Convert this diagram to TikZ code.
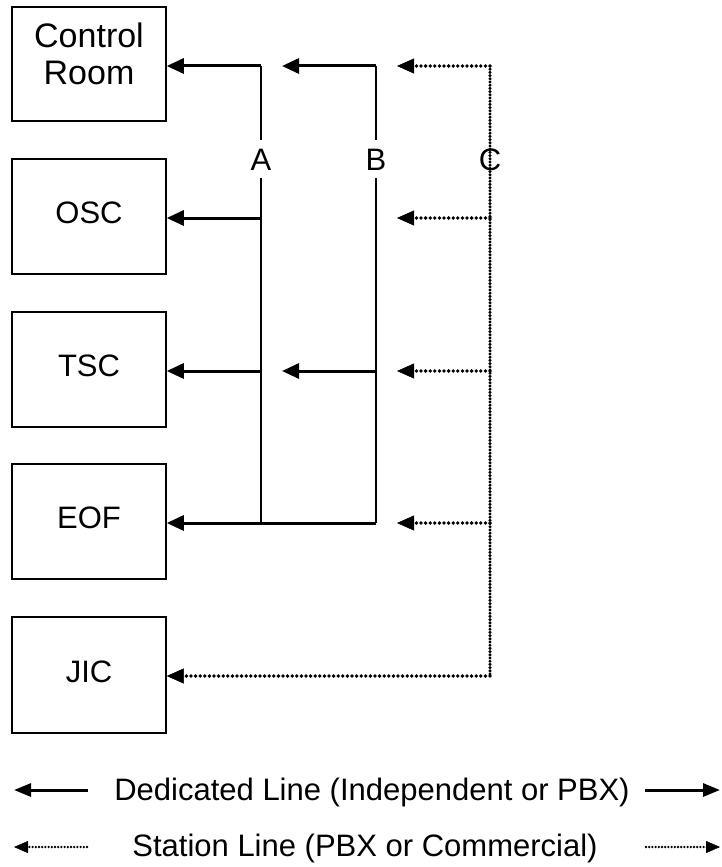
\documentclass[tikz,border=0pt]{standalone}
\usepackage{fontspec}
\setmainfont{Liberation Sans}
\usetikzlibrary{arrows.meta,decorations.markings}
\begin{document}
\begin{tikzpicture}[x=1pt,y=-1pt,
  lbl/.style={font=\fontsize{31}{37}\selectfont},
  box/.style={lbl, draw, line width=1.5pt, minimum width=154pt, inner sep=0pt, align=center, text depth=7pt},
  bus/.style={line width=1.5pt},
  ded/.style={line width=3pt, -{Triangle[length=17pt,width=15pt]}},
  sta/.style={postaction={decorate}, decoration={markings,
      mark=between positions 0 and -16pt step 4.6pt with {\fill (0,0) circle (1.9pt);},
      mark=at position 1 with {\arrow{Triangle[length=17pt,width=15pt]}}}},
  stav/.style={postaction={decorate}, decoration={markings,
      mark=between positions 0 and 1 step 3.2pt with {\fill (0,0) circle (1.7pt);}}},
  colname/.style={lbl, inner sep=8pt, anchor=base},
  dedleg/.style={line width=3pt, -{Triangle[length=17pt,width=13pt]}},
  staleg/.style={postaction={decorate}, decoration={markings,
      mark=between positions 0 and -12pt step 3.2pt with {\fill (0,0) circle (1.3pt);},
      mark=at position 1 with {\arrow{Triangle[length=14pt,width=12pt]}}}}]
\useasboundingbox (0,0) rectangle (721,867);

% boxes
\node[box, minimum height=114pt, font=\fontsize{34}{37}\selectfont, text depth=21pt] (cr) at (89,64) {Control\\Room};
\node[box, minimum height=115pt] (osc) at (89,216.5) {OSC};
\node[box, minimum height=115pt] (tsc) at (89,369.5) {TSC};
\node[box, minimum height=115pt] (eof) at (89,521.5) {EOF};
\node[box, minimum height=116pt] (jic) at (89,675) {JIC};

% column labels
\node[colname] (labA) at (261,170) {A};
\node[colname] (labB) at (376,170) {B};

% junction coordinates
\coordinate (aT) at (261,66);
\coordinate (a2) at (261,218);
\coordinate (a3) at (261,371);
\coordinate (bT) at (376,66);
\coordinate (b3) at (376,371);
\coordinate (bB) at (376,523);
\coordinate (bTe) at (282,66);
\coordinate (b3e) at (282,371);
\coordinate (cT) at (490,66);
\coordinate (c2) at (490,218);
\coordinate (c3) at (490,371);
\coordinate (c4) at (490,523);
\coordinate (cB) at (490,676);
\coordinate (cTe) at (397,66);
\coordinate (c2e) at (397,218);
\coordinate (c3e) at (397,371);
\coordinate (c4e) at (397,523);

% A and B buses
\draw[bus] (aT) -- (labA.north);
\draw[bus] (labA.south) -- (a2 |- bB);
\draw[bus] (bT) -- (labB.north);
\draw[bus] (labB.south) -- (bB);

% dedicated lines
\draw[ded] (aT) -- (cr.east |- aT);
\draw[ded] (bT) -- (bTe);
\draw[ded] (a2) -- (osc.east |- a2);
\draw[ded] (a3) -- (tsc.east |- a3);
\draw[ded] (b3) -- (b3e);
\draw[ded] (bB) -- (eof.east |- bB);

% station lines
\path[stav] (cT) -- (cB);
\path[sta] (cT) -- (cTe);
\path[sta] (c2) -- (c2e);
\path[sta] (c3) -- (c3e);
\path[sta] (c4) -- (c4e);
\path[sta] (cB) -- (jic.east |- cB);
\node[colname] (labC) at (490,170) {C};

% legend
\coordinate (l1a) at (88,790);
\coordinate (l1b) at (14,790);
\coordinate (r1a) at (645,790);
\coordinate (r1b) at (720,790);
\coordinate (l2a) at (87,847);
\coordinate (l2b) at (14,847);
\coordinate (r2a) at (646,847);
\coordinate (r2b) at (720,847);
\node[lbl, anchor=base, inner sep=0pt] (legded) at (372,800) {Dedicated Line (Independent or PBX)};
\node[lbl, anchor=base, inner sep=0pt] (legsta) at (365,856.5) {Station Line (PBX or Commercial)};
\draw[dedleg] (l1a) -- (l1b);
\draw[dedleg] (r1a) -- (r1b);
\path[staleg] (l2a) -- (l2b);
\path[staleg] (r2a) -- (r2b);
\end{tikzpicture}
\end{document}
